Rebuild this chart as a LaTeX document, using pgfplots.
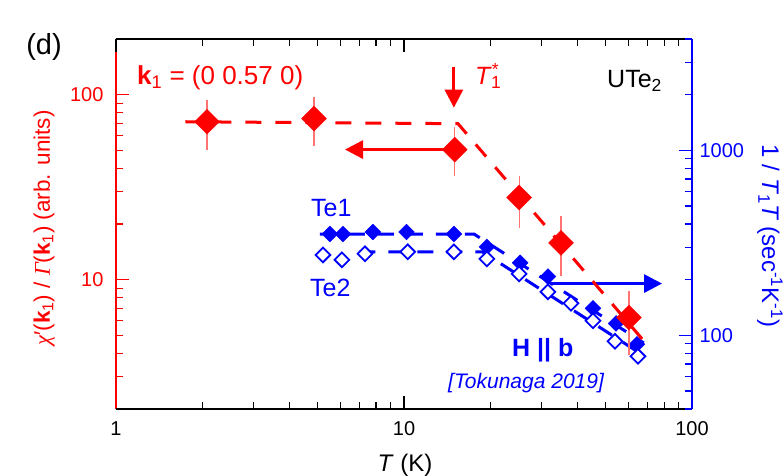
\documentclass[border=0pt]{standalone}
\usepackage{pgfplots}
\pgfplotsset{compat=1.18}
\usepackage{fontspec}
\setmainfont{Liberation Sans}
\newfontfamily\serifgreek{Liberation Serif}
\usetikzlibrary{arrows.meta}
\newcommand{\fs}[1]{\fontsize{#1}{#1}\selectfont}
\begin{document}
\begin{tikzpicture}
% ---------- blue data (right scale) ----------
\begin{axis}[at={(0,0)}, anchor=south west,
  scale only axis, width=576pt, height=370pt,
  xmode=log, ymode=log, xmin=1, xmax=100, ymin=40, ymax=4000,
  clip=false, hide axis]
\addplot[blue, line width=3pt, dash pattern=on 16pt off 13pt] coordinates {(5.1,353) (17.5,353) (68,91)};
\addplot[blue, line width=3pt, dash pattern=on 16pt off 13pt] coordinates {(7,283) (18.7,283) (68,77.7)};
\addplot[only marks, blue, mark=square*, mark size=5.6pt, mark options={rotate=45, blue}] coordinates {
(5.53,353) (6.14,353) (7.80,362) (10.2,362) (14.9,353) (19.4,301) (25.3,247) (31.6,208) (45.3,140) (54.5,116) (64.4,89.5)};
\addplot[only marks, blue, mark=square*, mark size=5.2pt, mark options={rotate=45, draw=blue, fill=white, line width=1.8pt}] coordinates {
(5.23,272) (6.09,256) (7.32,276) (10.3,283) (14.9,283) (19.4,259) (25.1,215) (31.6,172) (38.0,149) (45.3,120) (54.0,92.9) (64.9,77.1)};
\draw[blue, line width=3pt, -{Triangle[length=18pt,width=18pt]}] (axis cs:32.1,190.6) -- (axis cs:78.7,190.6);
\end{axis}
% ---------- red axis (left) with black bottom x axis ----------
\begin{axis}[at={(0,0)}, anchor=south west,
  scale only axis, width=576pt, height=370pt,
  xmode=log, ymode=log, xmin=1, xmax=100, ymin=2, ymax=200,
  clip=false,
  tick align=inside,
  major tick length=13pt, minor tick length=7pt,
  axis x line*=bottom, axis y line*=left,
  axis line style={-},
  x axis line style={black, line width=1.8pt, -},
  y axis line style={red, line width=1.8pt, -},
  xtick={1,10,100}, xticklabels={1,10,100},
  minor xtick={2,3,4,5,6,7,8,9,20,30,40,50,60,70,80,90},
  ytick={10,100}, yticklabels={10,100},
  minor ytick={2,3,4,5,6,7,8,9,20,30,40,50,60,70,80,90,200},
  x tick style={black, line width=1.2pt},
  y tick style={red, line width=1.2pt},
  xticklabel style={black, font=\fs{20}, yshift=-9pt},
  yticklabel style={red, font=\fs{20}, xshift=-9pt},
]
\draw[red, line width=3pt, -{Triangle[length=18pt,width=18pt]}] (axis cs:15,50.5) -- (axis cs:6.24,50.5);
\draw[red, line width=3pt, -{Triangle[length=18pt,width=18pt]}] (axis cs:14.9,141.7) -- (axis cs:14.9,85.1);
\addplot[red, line width=3pt, dash pattern=on 16pt off 14pt] coordinates {(1.74,71.4) (15.4,69.7) (68,4.67)};
\addplot[only marks, red, mark=square*, mark size=8.8pt, mark options={rotate=45, red},
  error bars/.cd, y dir=both, y explicit,
  error bar style={red!55, line width=1.2pt},
  error mark options={red!55, mark size=6pt, line width=1.2pt}]
  table[x=T, y=v, y error plus=ep, y error minus=em] {
T v ep em
2.07 71.4 15.9 17.1
4.87 74.2 16.3 17.0
15.0 50.5 11.8 11.2
25.1 27.8 6.1 7.2
35.1 15.8 4.8 4.5
60.4 6.24 1.85 2.0
};
\end{axis}
% ---------- black top x axis ----------
\begin{axis}[at={(0,0)}, anchor=south west,
  scale only axis, width=576pt, height=370pt,
  xmode=log, ymode=log, xmin=1, xmax=100, ymin=2, ymax=200,
  clip=false,
  tick align=inside,
  major tick length=13pt, minor tick length=7pt,
  axis x line*=top, axis y line=none,
  axis line style={-},
  x axis line style={black, line width=1.8pt, -},
  xtick={1,10,100}, xticklabels={},
  minor xtick={2,3,4,5,6,7,8,9,20,30,40,50,60,70,80,90},
  x tick style={black, line width=1.2pt},
]
\addplot[draw=none] coordinates {(2,10)};
\draw[black, line width=1.8pt] (rel axis cs:0,1) -- (rel axis cs:1,1);
\draw[black, line width=1.8pt] (rel axis cs:0,0) -- (rel axis cs:1,0);
\end{axis}
% ---------- blue frame (right) ----------
\begin{axis}[at={(0,0)}, anchor=south west,
  scale only axis, width=576pt, height=370pt,
  xmode=log, ymode=log, xmin=1, xmax=100, ymin=40, ymax=4000,
  clip=false,
  tick align=inside,
  major tick length=13pt, minor tick length=7pt,
  axis x line=none, axis y line*=right,
  axis line style={-},
  y axis line style={blue, line width=1.8pt, -},
  ytick={100,1000}, yticklabels={100,1000},
  minor ytick={40,50,60,70,80,90,200,300,400,500,600,700,800,900,2000,3000,4000},
  y tick style={blue, line width=1.2pt},
  yticklabel style={blue, font=\fs{20}, xshift=4pt},
]
\addplot[draw=none] coordinates {(2,100)};
\end{axis}
% ---------- texts ----------
\node[anchor=center, font=\fs{29}] at (-72pt,362pt) {(d)};
\node[anchor=base west, red, font=\fs{26}, inner sep=0pt] at (21pt,324pt) {\textbf{k}\textsubscript{1} = (0 0.57 0)};
\node[anchor=base west, red, font=\fs{25}, inner sep=0pt] at (359pt,324pt) {\textit{T}\textsuperscript{*}\hspace{-0.33em}\textsubscript{1}};
\node[anchor=base west, font=\fs{25}, inner sep=0pt] at (491pt,321pt) {UTe\textsubscript{2}};
\node[anchor=base west, blue, font=\fs{25}, inner sep=0pt] at (195pt,192pt) {Te1};
\node[anchor=base west, blue, font=\fs{25}, inner sep=0pt] at (194pt,112pt) {Te2};
\node[anchor=base west, blue, font=\fs{25}, inner sep=0pt] at (396pt,52pt) {\textbf{H || b}};
\node[anchor=base west, blue, font=\fs{21}, inner sep=0pt] at (332pt,20pt) {\textit{[Tokunaga 2019]}};
\node[anchor=base, font=\fs{24}, inner sep=0pt] at (289pt,-63pt) {\textit{T} (K)};
\node[anchor=center, red, rotate=90, font=\fs{22.5}, inner sep=0pt] at (-72pt,181pt) {{\serifgreek\itshape χ}′(\textbf{k}\textsubscript{1}) / {\serifgreek\itshape Γ}(\textbf{k}\textsubscript{1}) (arb. units)};
\node[anchor=center, blue, rotate=-90, font=\fs{24}, inner sep=0pt] at (654pt,173pt) {1 / \textit{T}\textsubscript{1}\textit{T} (sec\textsuperscript{-1}K\textsuperscript{-1})};
\pgfresetboundingbox
\useasboundingbox (-116pt,-67pt) rectangle (668pt,409pt);
\end{tikzpicture}
\end{document}
